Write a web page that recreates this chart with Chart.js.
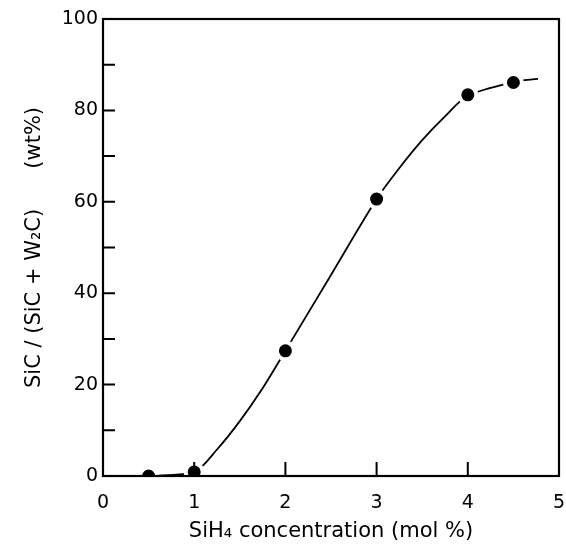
<!DOCTYPE html>
<html>
<head>
<meta charset="utf-8">
<script src="https://cdn.jsdelivr.net/npm/chart.js@4"></script>
<style>
  html, body { margin: 0; padding: 0; background: #fff; }
  #wrap { width: 566px; height: 548px; }
</style>
</head>
<body>
<div id="wrap"><canvas id="chartSiC" width="566" height="548"></canvas></div>
<script>
  // measured points
  const siH4 = [0.5, 1, 2, 3, 4, 4.5];
  const sicPct = [0, 0.9, 27.4, 60.6, 83.4, 86.1];
  // hand-drawn fit curve
  const curveX = [0.5, 1, 1.25, 1.5, 1.75, 2, 2.5, 3, 3.25, 3.5, 3.75, 4, 4.5, 4.77];
  const curveY = [0, 0.9, 5.8, 12, 19.2, 27.4, 44, 60.6, 67.4, 73.5, 78.7, 83.2, 86.2, 86.9];
  const xTicks = [0, 1, 2, 3, 4, 5];
  const yTicks = [0, 20, 40, 60, 80, 100];
  const yMinor = [10, 30, 50, 70, 90];

  const font = 'DejaVu Sans';

  // frame + inward ticks
  const frame = {
    id: 'frame',
    afterDraw(chart) {
      const { ctx, chartArea: a, scales } = chart;
      ctx.save();
      ctx.strokeStyle = '#000';
      ctx.lineWidth = 2.2;
      ctx.strokeRect(a.left, a.top, a.right - a.left, a.bottom - a.top);
      ctx.lineWidth = 2;
      ctx.beginPath();
      xTicks.slice(1, -1).forEach(v => {
        const px = scales.x.getPixelForValue(v);
        ctx.moveTo(px, a.bottom);
        ctx.lineTo(px, a.bottom - 14);
      });
      yTicks.slice(1, -1).concat(yMinor).forEach(v => {
        const py = scales.y.getPixelForValue(v);
        ctx.moveTo(a.left, py);
        ctx.lineTo(a.left + 12, py);
      });
      ctx.stroke();
      ctx.restore();
    }
  };

  const ctx = document.getElementById('chartSiC').getContext('2d');
  const chartSiC = new Chart(ctx, {
    type: 'scatter',
    data: {
      datasets: [
        {
          label: 'data',
          data: siH4.map((x, i) => ({ x: x, y: sicPct[i] })),
          showLine: false,
          pointRadius: 8.5,
          pointBackgroundColor: '#000',
          pointBorderColor: '#fff',
          pointBorderWidth: 4,
          order: 0
        },
        {
          label: 'fit',
          data: curveX.map((x, i) => ({ x: x, y: curveY[i] })),
          showLine: true,
          borderColor: '#000',
          borderWidth: 1.8,
          pointRadius: 0,
          tension: 0.3,
          order: 1
        }
      ]
    },
    options: {
      responsive: false,
      animation: false,
      layout: { autoPadding: false, padding: { top: 19, right: 7, left: 0, bottom: 0 } },
      plugins: { legend: { display: false }, tooltip: { enabled: false } },
      scales: {
        x: {
          type: 'linear',
          min: 0, max: 5,
          afterBuildTicks: s => { s.ticks = xTicks.map(v => ({ value: v })); },
          afterFit: s => { s.height = 72; s.paddingLeft = 0; s.paddingRight = 0; },
          grid: { display: false, drawTicks: false },
          border: { display: false },
          ticks: { color: '#000', font: { family: font, size: 19 }, padding: 16 },
          title: {
            display: true,
            text: 'SiH\u2084 concentration (mol %)',
            color: '#000',
            font: { family: font, size: 21 },
            padding: { top: 4 }
          }
        },
        y: {
          type: 'linear',
          min: 0, max: 100,
          afterBuildTicks: s => { s.ticks = yTicks.map(v => ({ value: v })); },
          afterFit: s => { s.width = 103; s.paddingTop = 0; s.paddingBottom = 0; },
          grid: { display: false, drawTicks: false },
          border: { display: false },
          ticks: { color: '#000', font: { family: font, size: 19 }, padding: 5 },
          title: {
            display: true,
            text: 'SiC / (SiC + W\u2082C)      (wt%)',
            color: '#000',
            font: { family: font, size: 21 },
            padding: { top: 22, bottom: 0 }
          }
        }
      }
    },
    plugins: [frame]
  });
</script>
</body>
</html>
